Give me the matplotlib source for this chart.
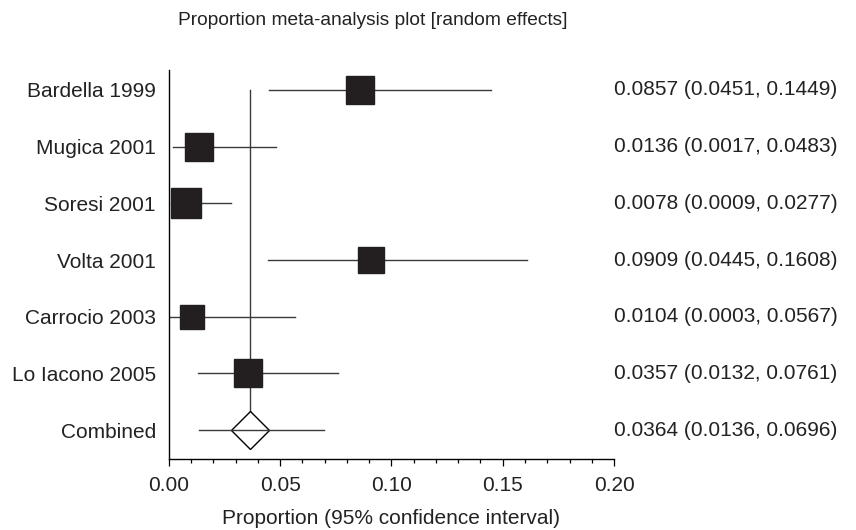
import matplotlib
matplotlib.use("Agg")
import matplotlib.pyplot as plt
import matplotlib.transforms as mtransforms
from matplotlib.ticker import MultipleLocator

plt.rcParams["font.family"] = ["Liberation Sans", "DejaVu Sans"]

# Study data
studies = ["Bardella 1999", "Mugica 2001", "Soresi 2001", "Volta 2001",
           "Carrocio 2003", "Lo Iacono 2005"]
proportion = [0.0857, 0.0136, 0.0078, 0.0909, 0.0104, 0.0357]
ci_low = [0.0451, 0.0017, 0.0009, 0.0445, 0.0003, 0.0132]
ci_high = [0.1449, 0.0483, 0.0277, 0.1608, 0.0567, 0.0761]

# Pooled estimate
combined_label = "Combined"
combined = 0.0364
combined_low = 0.0136
combined_high = 0.0696

fs = 15

fig = plt.figure(figsize=(8.56, 5.30), dpi=100)
ax = fig.add_axes([0.1974, 0.134, 0.5199, 0.734])

line_col = "#3a3a3a"
box_sizes = [19.6, 19.6, 21.8, 18.9, 17.8, 19.6]  # marker sizes (pt)

rows = list(range(len(studies)))
for i in rows:
    ax.plot([ci_low[i], ci_high[i]], [i, i], color=line_col, lw=1.0, zorder=2)
    ax.plot(proportion[i], i, marker="s", ms=box_sizes[i], color="#231f20",
            mec="#231f20", zorder=3)

crow = len(studies)
# vertical line at pooled estimate
ax.plot([combined, combined], [0, crow], color=line_col, lw=1.0, zorder=1)
ax.plot(combined, crow, marker="D", ms=19.4, mfc="white", mec="black",
        mew=1.0, zorder=2)
ax.plot([combined_low, combined_high], [crow, crow], color=line_col, lw=1.0,
        zorder=3)

ax.set_xlim(0, 0.20)
ax.set_ylim(6.51, -0.353)
ax.set_xticks([0.00, 0.05, 0.10, 0.15, 0.20])
ax.set_xticklabels(["0.00", "0.05", "0.10", "0.15", "0.20"], fontsize=fs,
                   color="#222222")
ax.xaxis.set_minor_locator(MultipleLocator(0.01))
ax.tick_params(axis="x", which="major", length=5, width=0.9, pad=7)
ax.tick_params(axis="x", which="minor", length=3.2, width=0.9)

ax.set_yticks(rows + [crow])
ax.set_yticklabels(studies + [combined_label], fontsize=fs, color="#222222")
ax.tick_params(axis="y", length=0, pad=9.4)

for s in ["top", "right"]:
    ax.spines[s].set_visible(False)
ax.spines["left"].set_linewidth(1.0)
ax.spines["bottom"].set_linewidth(1.0)

# estimate text on the right
trans = mtransforms.blended_transform_factory(ax.transAxes, ax.transData)
for i in rows:
    ax.text(1.0, i, "%.4f (%.4f, %.4f)" % (proportion[i], ci_low[i], ci_high[i]),
            transform=trans, ha="left", va="center", fontsize=fs, color="#222222")
ax.text(1.0, crow, "%.4f (%.4f, %.4f)" % (combined, combined_low, combined_high),
        transform=trans, ha="left", va="center", fontsize=fs, color="#222222")

ax.set_xlabel("Proportion (95% confidence interval)", fontsize=fs, labelpad=10.5,
              color="#222222")
fig.text(0.436, 0.962, "Proportion meta-analysis plot [random effects]",
         ha="center", va="center", fontsize=13.8, color="#222222")

plt.savefig("out.png", dpi=100)
